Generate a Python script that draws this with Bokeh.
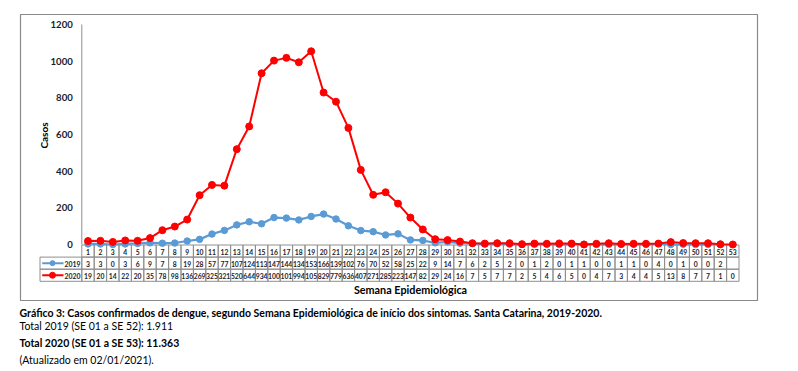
import numpy as np
from bokeh.plotting import figure
from bokeh.models import Range1d
from bokeh.core.properties import value
from bokeh.embed import file_html
from bokeh.resources import INLINE

# ---------------- data ----------------
weeks = list(range(1, 54))
series_names = ["2019", "2020"]
cases_2019 = [3, 3, 0, 3, 6, 9, 7, 8, 19, 28, 57, 77, 107, 124, 113, 147, 144, 134,
              153, 166, 139, 102, 76, 70, 52, 58, 25, 22, 9, 14, 7, 6, 2, 5, 2, 0,
              1, 2, 0, 1, 1, 0, 0, 1, 1, 0, 4, 0, 1, 0, 0, 2, None]
cases_2020 = [19, 20, 14, 22, 20, 35, 78, 98, 136, 269, 325, 321, 520, 644, 934,
              1003, 1018, 994, 1054, 829, 779, 636, 407, 271, 285, 223, 147, 82, 29,
              24, 16, 7, 5, 7, 7, 2, 5, 4, 6, 5, 0, 4, 7, 3, 4, 4, 5, 13, 8, 7, 7, 1, 0]
y_ticks = [0, 200, 400, 600, 800, 1000, 1200]
y_label = "Casos"
x_label = "Semana Epidemiológica"
captions = [
    ("Gráfico 3: Casos confirmados de dengue, segundo Semana Epidemiológica de início dos sintomas. Santa Catarina, 2019-2020.", "bold"),
    ("Total 2019 (SE 01 a SE 52): 1.911", "normal"),
    ("Total 2020 (SE 01 a SE 53): 11.363", "bold"),
    ("(Atualizado em 02/01/2021).", "normal"),
]

# ---------------- layout (pixels) ----------------
W, H = 790, 368
AX_L = 81.3        # x pixel of the y axis (week 0.5)
CELL = 12.4        # pixel width of a week column
Y0_PX, YTOP_PX = 244.0, 24.0   # pixel rows of 0 and 1200
ROW = 12.1
FONT = "Lato"
BLUE, RED = "#5B9BD5", "#FF0000"
GRID = "#8f8f8f"
TXT = "#1b1b2b"

x0 = 0.5 - AX_L / CELL
scale = (Y0_PX - YTOP_PX) / max(y_ticks)

p = figure(width=W, height=H, output_backend="svg", toolbar_location=None,
           x_range=Range1d(x0, x0 + W / CELL),
           y_range=Range1d((Y0_PX - H) / scale, Y0_PX / scale),
           x_axis_location=None, y_axis_location=None,
           min_border=0, outline_line_color=None)
p.extra_x_ranges = {"px": Range1d(0, W)}
p.extra_y_ranges = {"px": Range1d(H, 0)}
p.grid.visible = False

PX = dict(x_range_name="px", y_range_name="px")
PY = dict(y_range_name="px")

# outer chart box
p.quad(left=[20], right=[757], top=[14], bottom=[300], fill_color=None,
       line_color="#8a8a8a", line_width=1.2, **PX)

# y axis line and tick labels
p.segment(x0=[0.5], y0=[0], x1=[0.5], y1=[max(y_ticks)], line_color=GRID, line_width=1)
p.text(x=[0.5] * len(y_ticks), y=y_ticks, text=[str(t) for t in y_ticks],
       x_offset=-9, text_align="right", text_baseline="middle",
       text_font=value(FONT), text_font_style="bold", text_font_size="9.6px",
       text_color=TXT)
p.text(x=[43], y=[135], text=[y_label], angle=np.pi / 2, text_align="center",
       text_baseline="middle", text_font=value(FONT), text_font_style="bold",
       text_font_size="10px", text_color="black", **PX)

# data table
rows_top = [Y0_PX + 0.5 + i * ROW for i in range(3)]
wk = np.array(weeks, dtype=float)
for i in range(3):
    p.quad(left=wk - 0.5, right=wk + 0.5, top=[rows_top[i]] * len(weeks),
           bottom=[rows_top[i] + ROW] * len(weeks), fill_color=None,
           line_color=GRID, line_width=1, **PY)
for i in (1, 2):
    p.quad(left=[39.5], right=[AX_L], top=[rows_top[i]], bottom=[rows_top[i] + ROW],
           fill_color=None, line_color=GRID, line_width=1, **PX)


def cell_text(v):
    if v is None:
        return ""
    return str(v)[:3]  # the source table cells are too narrow for 4 digits


table_rows = [[str(w) for w in weeks],
              [cell_text(v) for v in cases_2019],
              [cell_text(v) for v in cases_2020]]
for i, labels in enumerate(table_rows):
    p.text(x=weeks, y=[rows_top[i] + ROW / 2 + 0.5] * len(weeks), text=labels,
           text_align="center", text_baseline="middle", text_font=value(FONT),
           text_font_style="bold", text_font_size="6.8px", text_color=TXT, **PY)

# legend keys in the table header
for i, (name, col, sz) in enumerate([(series_names[0], BLUE, 5), (series_names[1], RED, 6)]):
    yc = rows_top[i + 1] + ROW / 2
    p.segment(x0=[41.7], y0=[yc], x1=[63], y1=[yc], line_color=col, line_width=2, **PX)
    p.scatter(x=[52], y=[yc], size=sz, fill_color=col, line_color=col, **PX)
    p.text(x=[64], y=[yc + 0.5], text=[name], text_align="left", text_baseline="middle",
           text_font=value(FONT), text_font_style="bold", text_font_size="6.9px",
           text_color=TXT, **PX)

# series
s19 = np.array([np.nan if v is None else v for v in cases_2019], dtype=float)
s20 = np.array(cases_2020, dtype=float)
p.line(wk, s19, line_color=BLUE, line_width=2.2)
p.scatter(wk, s19, size=6.5, fill_color=BLUE, line_color=BLUE)
p.line(wk, s20, line_color=RED, line_width=2)
p.scatter(wk, s20, size=7, fill_color=RED, line_color=RED)

# x axis title
p.text(x=[410], y=[289], text=[x_label], text_align="center", text_baseline="middle",
       text_font=value(FONT), text_font_style="bold", text_font_size="10.8px",
       text_color="black", **PX)

# captions below the box
cap_y = [312.7, 325.5, 342.0, 359.0]
for (txt, style), yy in zip(captions, cap_y):
    p.text(x=[19], y=[yy], text=[txt], text_align="left", text_baseline="middle",
           text_font=value(FONT), text_font_style=style, text_font_size="10.5px",
           text_color="black", **PX)

open("out.html", "w").write(file_html(p, INLINE))
